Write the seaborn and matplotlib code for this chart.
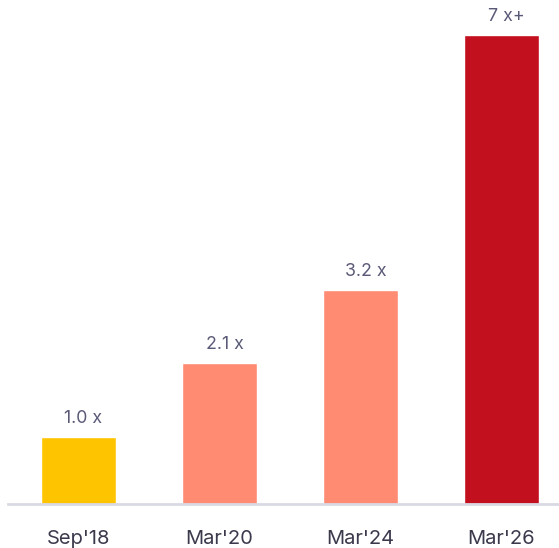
import numpy as np
import matplotlib.pyplot as plt
import seaborn as sns
import pandas as pd

periods = ["Sep'18", "Mar'20", "Mar'24", "Mar'26"]
multiples = [1.0, 2.1, 3.2, 7.0]
value_labels = ["1.0 x", "2.1 x", "3.2 x", "7 x+"]
bar_colors = ["#FFC400", "#FF8B73", "#FF8B73", "#C2101F"]

df = pd.DataFrame({"period": periods, "multiple": multiples})

sns.set_style("white")
plt.rcParams['font.family'] = ['Inter', 'DejaVu Sans']

fig = plt.figure(figsize=(5.59, 5.48), dpi=100)
ax = fig.add_axes([8 / 559, 44 / 548, 551 / 559, 504 / 548])

sns.barplot(data=df, x="period", y="multiple", hue="period", palette=bar_colors,
            width=0.53, legend=False, saturation=1, ax=ax)

# labels sit a little right of the bar centre, like the original
for i, lab in enumerate(value_labels):
    ax.annotate(lab, (i, multiples[i]), xytext=(5, 10), textcoords="offset pixels",
                ha="center", va="bottom", fontsize=12.8, color="#5A5A78")

ax.set_xlim(-0.5, 3.5 - 13 / 141)
ax.set_ylim(0, 504 / 67)
ax.set_xlabel("")
ax.set_ylabel("")
ax.set_yticks([])
ax.tick_params(axis="x", length=0, pad=18.5, labelsize=14.5, labelcolor="#3A3A4C")
for s in ["top", "right", "left"]:
    ax.spines[s].set_visible(False)
ax.spines["bottom"].set_color("#D9D9E3")
ax.spines["bottom"].set_linewidth(2)

plt.savefig("out.png", dpi=100)
